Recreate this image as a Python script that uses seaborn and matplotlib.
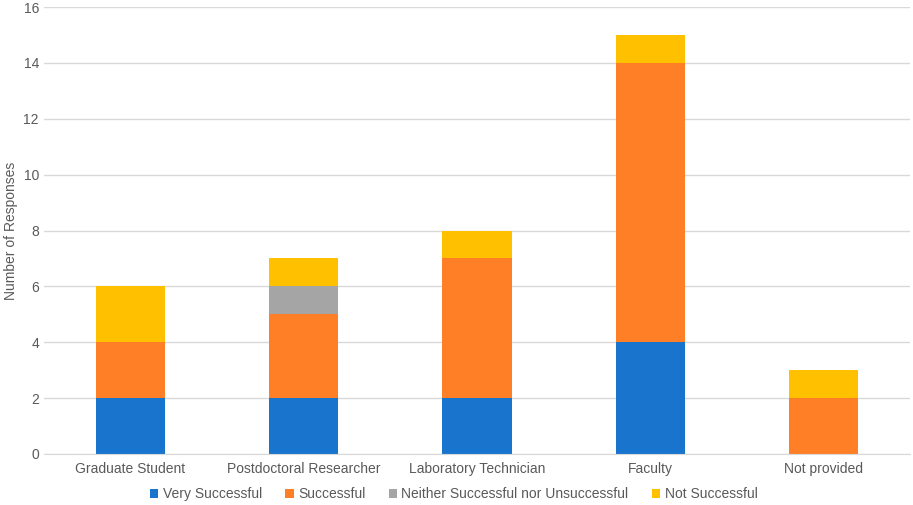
import numpy as np
import pandas as pd
import matplotlib
matplotlib.use('Agg')
import matplotlib.pyplot as plt
import seaborn as sns

categories = ['Graduate Student', 'Postdoctoral Researcher',
              'Laboratory Technician', 'Faculty', 'Not provided']
very_successful = [2, 2, 2, 4, 0]
successful = [2, 3, 5, 10, 2]
neither = [0, 1, 0, 0, 0]
not_successful = [2, 1, 1, 1, 1]

series_names = ['Very Successful', 'Successful',
                'Neither Successful nor Unsuccessful', 'Not Successful']
series_values = [very_successful, successful, neither, not_successful]
colors = ['#1874CD', '#FF7F27', '#A5A5A5', '#FFC000']

sns.set_style('white')
plt.rcParams['font.family'] = ['Liberation Sans', 'DejaVu Sans']

fig = plt.figure(figsize=(9.13, 5.05), dpi=100)
ax = fig.add_axes([0.048, 0.101, 0.949, 0.885])

bottom = np.zeros(len(categories))
for name, vals, col in zip(series_names, series_values, colors):
    df = pd.DataFrame({'cat': categories, 'val': vals})
    sns.barplot(data=df, x='cat', y='val', color=col, width=0.4,
                bottom=bottom, ax=ax, label=name, saturation=1,
                linewidth=0)
    bottom = bottom + np.array(vals)

ax.set_xlim(-0.5, 4.5)
ax.set_ylim(0, 16)
ax.set_yticks(range(0, 17, 2))
ax.set_xlabel('')
ax.set_ylabel('Number of Responses', fontsize=10, color='#595959')
ax.yaxis.grid(True, color='#D9D9D9', linewidth=1)
ax.set_axisbelow(True)
for s in ['top', 'right', 'left']:
    ax.spines[s].set_visible(False)
ax.spines['bottom'].set_color('#D9D9D9')
ax.tick_params(axis='both', length=0, labelsize=10, colors='#595959')
ax.tick_params(axis='x', pad=6)

handles, labels = ax.get_legend_handles_labels()
if ax.get_legend() is not None:
    ax.get_legend().remove()
leg = fig.legend(handles, labels, loc='center',
                 bbox_to_anchor=(0.497, 11 / 505), ncol=4,
                 frameon=False, fontsize=10, handlelength=0.6,
                 handleheight=0.6, handletextpad=0.3, columnspacing=1.7,
                 borderaxespad=0, borderpad=0)
for t in leg.get_texts():
    t.set_color('#595959')

fig.savefig('out.png', dpi=100)
